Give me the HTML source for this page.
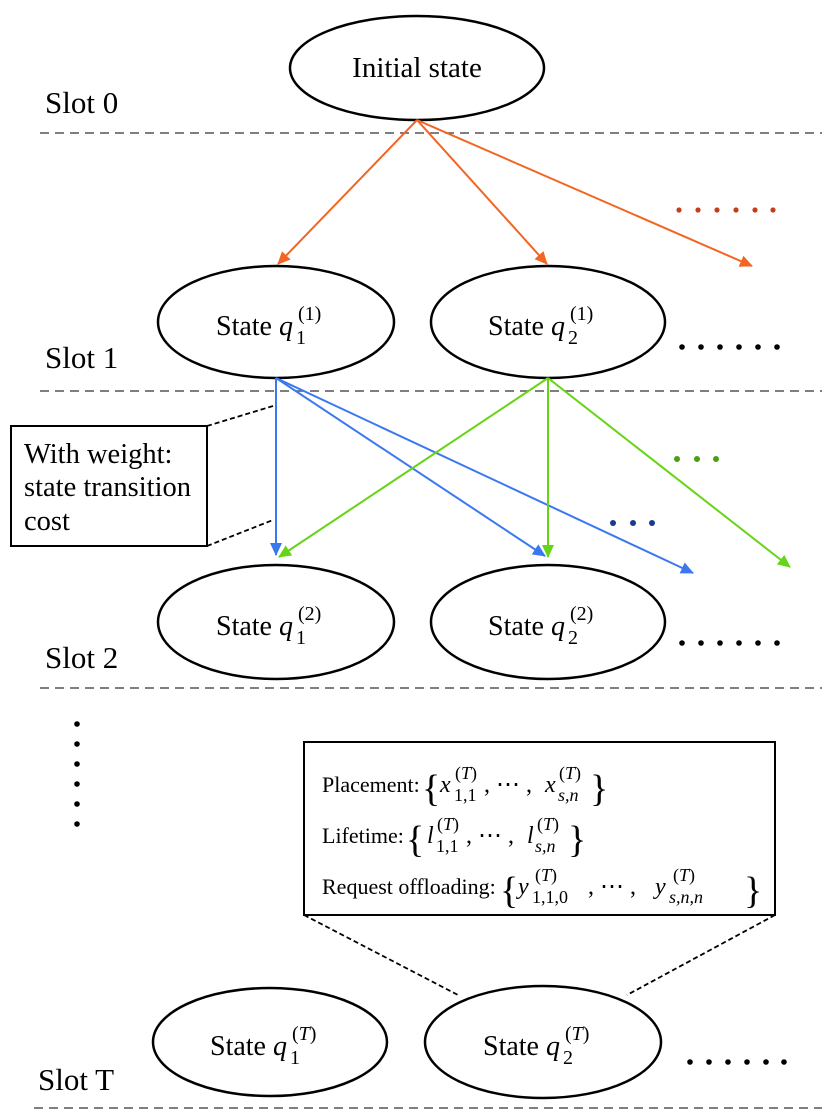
<!DOCTYPE html>
<html><head><meta charset="utf-8"><style>
html,body{margin:0;padding:0;background:#fff}
svg{display:block}
text{font-family:"Liberation Serif",serif;fill:#000}
.m{font-style:italic}
</style></head><body>
<svg width="830" height="1118" viewBox="0 0 830 1118" xmlns="http://www.w3.org/2000/svg">
<defs>
<marker id="ab" markerWidth="14" markerHeight="14" refX="12" refY="7" orient="auto" markerUnits="userSpaceOnUse"><path d="M0,1 L13,7 L0,13 z" fill="#3a78f2"/></marker>
<marker id="ag" markerWidth="14" markerHeight="14" refX="12" refY="7" orient="auto" markerUnits="userSpaceOnUse"><path d="M0,1 L13,7 L0,13 z" fill="#66d417"/></marker>
<marker id="ar" markerWidth="14" markerHeight="14" refX="12" refY="7" orient="auto" markerUnits="userSpaceOnUse"><path d="M0,1 L13,7 L0,13 z" fill="#f26522"/></marker>
</defs>
<g stroke="#555" stroke-width="1.5" stroke-dasharray="9,6">
<line x1="40" y1="133" x2="822" y2="133"/>
<line x1="40" y1="391" x2="822" y2="391"/>
<line x1="40" y1="688" x2="822" y2="688"/>
<line x1="34" y1="1108" x2="822" y2="1108"/>
</g>
<g fill="#fff" stroke="#000" stroke-width="2.5">
<ellipse cx="417" cy="68" rx="127" ry="52"/>
<ellipse cx="276" cy="322" rx="118" ry="56"/>
<ellipse cx="548" cy="322" rx="117" ry="56"/>
<ellipse cx="276" cy="622" rx="118" ry="57"/>
<ellipse cx="548" cy="622" rx="117" ry="57"/>
<ellipse cx="270" cy="1042" rx="117" ry="54"/>
<ellipse cx="543" cy="1042" rx="118" ry="56"/>
</g>
<g stroke="#f26522" stroke-width="2" fill="none">
<line x1="417" y1="120" x2="278" y2="264" marker-end="url(#ar)"/>
<line x1="417" y1="120" x2="547" y2="264" marker-end="url(#ar)"/>
<line x1="417" y1="120" x2="752" y2="266" marker-end="url(#ar)"/>
</g>
<g stroke="#3a78f2" stroke-width="2" fill="none">
<line x1="276" y1="378" x2="276" y2="555" marker-end="url(#ab)"/>
<line x1="276" y1="378" x2="545" y2="556" marker-end="url(#ab)"/>
<line x1="276" y1="378" x2="693" y2="573" marker-end="url(#ab)"/>
</g>
<g stroke="#66d417" stroke-width="2" fill="none">
<line x1="548" y1="378" x2="279" y2="557" marker-end="url(#ag)"/>
<line x1="548" y1="378" x2="548" y2="557" marker-end="url(#ag)"/>
<line x1="548" y1="378" x2="790" y2="567" marker-end="url(#ag)"/>
</g>
<g fill="#c0401a"><circle cx="679" cy="210" r="2.6"/><circle cx="698" cy="210" r="2.6"/><circle cx="717" cy="210" r="2.6"/><circle cx="736" cy="210" r="2.6"/><circle cx="755" cy="210" r="2.6"/><circle cx="773" cy="210" r="2.6"/></g>
<g fill="#4aa012"><circle cx="677" cy="459" r="3"/><circle cx="697" cy="459" r="3"/><circle cx="716" cy="459" r="3"/></g>
<g fill="#1a3a8f"><circle cx="613" cy="523" r="3"/><circle cx="633" cy="523" r="3"/><circle cx="652" cy="523" r="3"/></g>
<g fill="#000">
<circle cx="682" cy="347" r="2.8"/><circle cx="701" cy="347" r="2.8"/><circle cx="720" cy="347" r="2.8"/><circle cx="739" cy="347" r="2.8"/><circle cx="758" cy="347" r="2.8"/><circle cx="777" cy="347" r="2.8"/>
<circle cx="682" cy="643" r="2.8"/><circle cx="701" cy="643" r="2.8"/><circle cx="720" cy="643" r="2.8"/><circle cx="739" cy="643" r="2.8"/><circle cx="758" cy="643" r="2.8"/><circle cx="777" cy="643" r="2.8"/>
<circle cx="690" cy="1062" r="2.8"/><circle cx="709" cy="1062" r="2.8"/><circle cx="728" cy="1062" r="2.8"/><circle cx="747" cy="1062" r="2.8"/><circle cx="766" cy="1062" r="2.8"/><circle cx="784" cy="1062" r="2.8"/>
<circle cx="77" cy="724" r="2.8"/><circle cx="77" cy="744" r="2.8"/><circle cx="77" cy="764" r="2.8"/><circle cx="77" cy="784" r="2.8"/><circle cx="77" cy="804" r="2.8"/><circle cx="77" cy="824" r="2.8"/>
</g>
<rect x="11" y="426" width="196" height="120" fill="#fff" stroke="#000" stroke-width="2"/>
<rect x="304" y="742" width="471" height="173" fill="#fff" stroke="#000" stroke-width="2"/>
<g stroke="#000" stroke-width="1.8" stroke-dasharray="5,3">
<line x1="207" y1="426" x2="273" y2="406"/>
<line x1="207" y1="546" x2="273" y2="520"/>
<line x1="304" y1="915" x2="458" y2="995"/>
<line x1="775" y1="915" x2="627" y2="995"/>
</g>
<g font-size="31">
<text x="45" y="113">Slot 0</text>
<text x="45" y="368">Slot 1</text>
<text x="45" y="668">Slot 2</text>
<text x="38" y="1090">Slot T</text>
</g>
<text x="417" y="77" font-size="29" text-anchor="middle">Initial state</text>
<g font-size="28">
<text x="216" y="335">State</text><text x="279" y="335" class="m">q</text><text x="296" y="344" font-size="20">1</text><text x="298" y="320" font-size="20">(1)</text>
<text x="488" y="335">State</text><text x="551" y="335" class="m">q</text><text x="568" y="344" font-size="20">2</text><text x="570" y="320" font-size="20">(1)</text>
<text x="216" y="635">State</text><text x="279" y="635" class="m">q</text><text x="296" y="644" font-size="20">1</text><text x="298" y="620" font-size="20">(2)</text>
<text x="488" y="635">State</text><text x="551" y="635" class="m">q</text><text x="568" y="644" font-size="20">2</text><text x="570" y="620" font-size="20">(2)</text>
<text x="210" y="1055">State</text><text x="273" y="1055" class="m">q</text><text x="290" y="1064" font-size="20">1</text><text x="292" y="1040" font-size="20">(<tspan class="m">T</tspan>)</text>
<text x="483" y="1055">State</text><text x="546" y="1055" class="m">q</text><text x="563" y="1064" font-size="20">2</text><text x="565" y="1040" font-size="20">(<tspan class="m">T</tspan>)</text>
</g>
<g font-size="28.5">
<text x="24" y="463">With weight:</text>
<text x="24" y="496">state transition</text>
<text x="24" y="530">cost</text>
</g>
<g font-size="22">
<text x="322" y="792">Placement:</text>
<text x="422" y="801" font-size="38">{</text>
<text x="440" y="792" class="m" font-size="24">x</text>
<text x="454" y="801" font-size="18">1,1</text>
<text x="455" y="779" font-size="18">(<tspan class="m">T</tspan>)</text>
<text x="484" y="792" font-size="24">, ⋯ ,</text>
<text x="545" y="792" class="m" font-size="24">x</text>
<text x="558" y="801" font-size="18" class="m">s,n</text>
<text x="559" y="779" font-size="18">(<tspan class="m">T</tspan>)</text>
<text x="590" y="801" font-size="38">}</text>

<text x="322" y="843">Lifetime:</text>
<text x="406" y="852" font-size="38">{</text>
<text x="427" y="843" class="m" font-size="24">l</text>
<text x="436" y="852" font-size="18">1,1</text>
<text x="437" y="830" font-size="18">(<tspan class="m">T</tspan>)</text>
<text x="466" y="843" font-size="24">, ⋯ ,</text>
<text x="527" y="843" class="m" font-size="24">l</text>
<text x="535" y="852" font-size="18" class="m">s,n</text>
<text x="537" y="830" font-size="18">(<tspan class="m">T</tspan>)</text>
<text x="568" y="852" font-size="38">}</text>

<text x="322" y="894">Request offloading:</text>
<text x="500" y="903" font-size="38">{</text>
<text x="518" y="894" class="m" font-size="24">y</text>
<text x="532" y="903" font-size="18">1,1,0</text>
<text x="535" y="881" font-size="18">(<tspan class="m">T</tspan>)</text>
<text x="588" y="894" font-size="24">, ⋯ ,</text>
<text x="655" y="894" class="m" font-size="24">y</text>
<text x="669" y="903" font-size="18" class="m">s,n,n</text>
<text x="673" y="881" font-size="18">(<tspan class="m">T</tspan>)</text>
<text x="744" y="903" font-size="38">}</text>
</g>
</svg>
</body></html>
